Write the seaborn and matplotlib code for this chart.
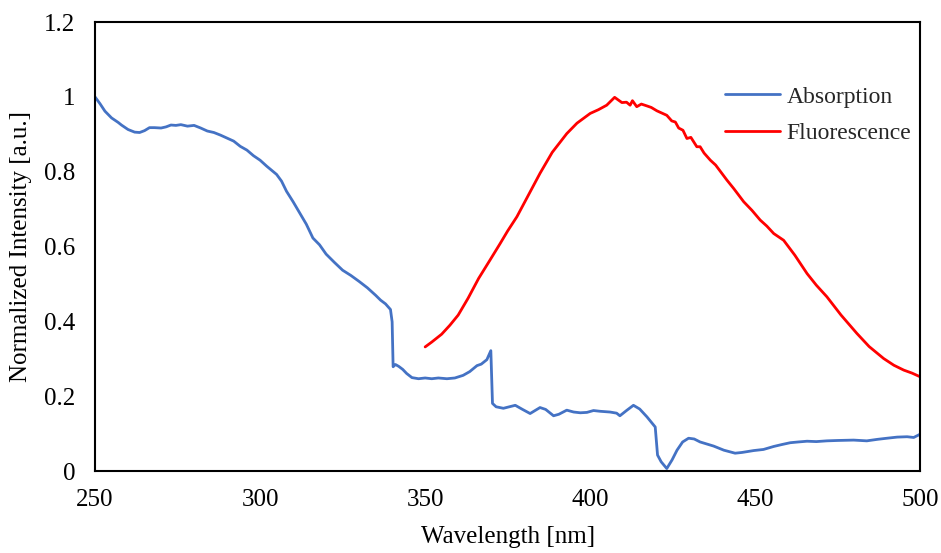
import matplotlib
matplotlib.use("Agg")
import matplotlib.pyplot as plt
import seaborn as sns
import pandas as pd
from matplotlib.ticker import FuncFormatter, MultipleLocator

abs_wl = [250, 251.5, 253, 255, 257, 258, 260, 262, 263.5, 265, 266.5, 268, 270, 271.5, 273,
          274.5, 276, 278, 280, 282, 284, 286, 288, 290, 292, 294, 296, 298,
          300, 302, 305, 306.5, 308, 310, 312, 314, 316, 318, 320, 322.5, 325, 327.5, 330,
          332.5, 335, 336.5, 338, 339.5, 340.0, 340.3, 341, 342, 343.2, 344.4, 346, 348,
          350, 352, 354, 356.6, 359, 361.5, 363.5, 365.7, 367, 368.7, 369.9, 370.4, 371.5,
          373.7, 377.3, 379.5, 381.8, 384.8, 386.5, 388.9, 390.5, 392.9, 395, 397, 399, 401,
          403, 406, 408, 409, 411, 413.1, 415, 417.2, 419.7, 420.4, 421.5, 423.2, 424.8, 426.3,
          428, 429.8, 431.5, 433.3, 437.4, 440.5, 443.9, 446, 449.5, 452.5, 455.6, 458, 460.6,
          463, 465.7, 468.5, 471.7, 475, 479.8, 483.8, 487, 489.9, 493, 496, 498, 500]
abs_val = [1.0, 0.982, 0.962, 0.944, 0.932, 0.925, 0.913, 0.906, 0.905, 0.910, 0.918, 0.918,
           0.917, 0.920, 0.925, 0.924, 0.926, 0.922, 0.924, 0.917, 0.909, 0.905, 0.898, 0.890,
           0.882, 0.868, 0.858, 0.843, 0.831, 0.815, 0.793, 0.775, 0.748, 0.720, 0.690, 0.660,
           0.623, 0.605, 0.580, 0.558, 0.537, 0.523, 0.507, 0.490, 0.470, 0.457, 0.447, 0.432,
           0.399, 0.279, 0.285, 0.280, 0.272, 0.261, 0.250, 0.247, 0.249, 0.247, 0.249, 0.247,
           0.249, 0.256, 0.266, 0.282, 0.286, 0.298, 0.322, 0.181, 0.172, 0.168, 0.176, 0.165,
           0.154, 0.170, 0.165, 0.148, 0.152, 0.163, 0.158, 0.156, 0.157, 0.162, 0.160, 0.158,
           0.155, 0.148, 0.162, 0.176, 0.166, 0.145, 0.118, 0.043, 0.025, 0.007, 0.030, 0.056,
           0.078, 0.088, 0.086, 0.078, 0.067, 0.056, 0.048, 0.050, 0.055, 0.058, 0.066, 0.071,
           0.076, 0.078, 0.080, 0.079, 0.081, 0.082, 0.083, 0.081, 0.085, 0.088, 0.091, 0.092,
           0.090, 0.099]

flu_wl = [350, 352, 355, 357.5, 360, 363, 366.2, 369.5, 372.7, 375, 377.8, 381, 384.8, 388.5,
          392.9, 396, 400, 402.5, 405, 407.4, 409.6, 411, 412.1, 412.8, 414.1, 415.5, 417.2,
          418.5, 420.2, 423.2, 424.7, 425.8, 426.8, 428.1, 429.3, 430.5, 432.3, 433.3, 434.5,
          436.4, 438, 441.4, 443.5, 446.5, 449, 451.5, 453.5, 455.6, 458.6, 462, 465.7, 468.5,
          471.7, 476, 480.8, 484.5, 488.9, 492, 495, 497.5, 500]
flu_val = [0.332, 0.345, 0.366, 0.390, 0.417, 0.462, 0.515, 0.562, 0.608, 0.642, 0.680, 0.733,
           0.796, 0.852, 0.902, 0.930, 0.956, 0.966, 0.978, 0.999, 0.985, 0.986, 0.978, 0.990,
           0.974, 0.981, 0.976, 0.972, 0.963, 0.951, 0.936, 0.933, 0.917, 0.911, 0.889, 0.892,
           0.867, 0.867, 0.850, 0.831, 0.818, 0.778, 0.755, 0.720, 0.697, 0.671, 0.655, 0.635,
           0.617, 0.577, 0.528, 0.497, 0.466, 0.417, 0.368, 0.333, 0.301, 0.283, 0.270, 0.262,
           0.252]

sns.set_theme(style="white")
plt.rcParams['font.family'] = ['Liberation Serif', 'DejaVu Serif']

fig = plt.figure(figsize=(9.41, 5.53), dpi=100)
ax = fig.add_axes([0.101, 0.148, 0.877, 0.812])

df_abs = pd.DataFrame({"wl": abs_wl, "val": abs_val})
df_flu = pd.DataFrame({"wl": flu_wl, "val": flu_val})
sns.lineplot(data=df_abs, x="wl", y="val", ax=ax, color="#4472C4", linewidth=2.0,
             estimator=None, sort=False, label="Absorption")
sns.lineplot(data=df_flu, x="wl", y="val", ax=ax, color="#FF0000", linewidth=2.0,
             estimator=None, sort=False, label="Fluorescence")

ax.set_xlim(250, 500)
ax.set_ylim(0, 1.2)
ax.xaxis.set_major_locator(MultipleLocator(50))
ax.yaxis.set_major_locator(MultipleLocator(0.2))
ax.yaxis.set_major_formatter(FuncFormatter(lambda v, p: f"{v:g}"))
ax.tick_params(axis="y", length=0, labelsize=18, colors="black", pad=14)
ax.tick_params(axis="x", length=0, labelsize=18, colors="black", pad=13)
for s in ax.spines.values():
    s.set_visible(True)
    s.set_color("black")
    s.set_linewidth(1.5)

ax.set_xlabel("Wavelength [nm]", fontsize=18, color="black", labelpad=11)
ax.set_ylabel("Normalized Intensity [a.u.]", fontsize=18, color="black", labelpad=9)

leg = ax.legend(loc="upper right", bbox_to_anchor=(1.015, 0.905), frameon=False,
                fontsize=17, handlelength=2.3, labelspacing=0.65, handletextpad=0.3)

fig.savefig("out.png", dpi=100)
